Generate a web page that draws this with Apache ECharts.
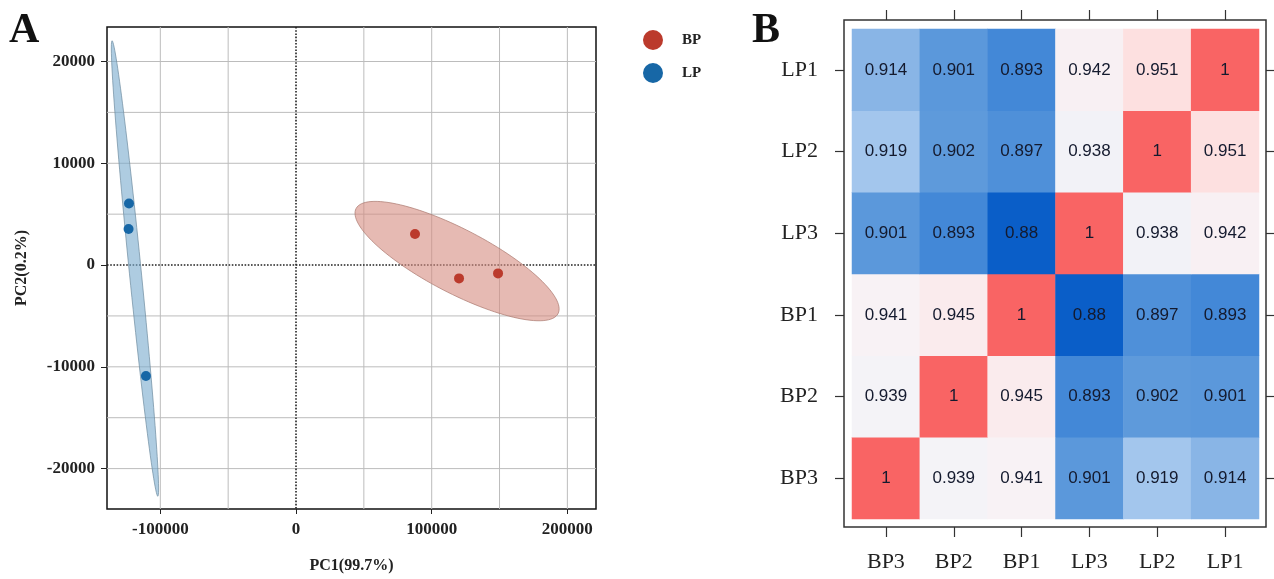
<!DOCTYPE html>
<html><head><meta charset="utf-8">
<script src="https://cdn.jsdelivr.net/npm/echarts@6/dist/echarts.min.js"></script>
<style>html,body{margin:0;padding:0;background:#fff}#c{width:1274px;height:579px}</style>
</head><body><div id="c"></div>
<script>
// ---- Panel A: PCA ----
const pcaXTicks = [-100000, 0, 100000, 200000];
const pcaYTicks = [-20000, -10000, 0, 10000, 20000];
const pcaXGrid = [-100000, -50000, 50000, 100000, 150000, 200000];
const pcaYGrid = [-20000, -15000, -10000, -5000, 5000, 10000, 15000, 20000];
const bpPoints = [[87700, 3050], [120150, -1310], [148900, -820]];
const lpPoints = [[-123100, 6050], [-123400, 3540], [-110600, -10900]];
// ellipse: [centerX, centerY, semiAxis1X, semiAxis1Y, semiAxis2X, semiAxis2Y]
const bpEllipse = [118700, 390, 74400, -5170, -11100, -2770];
const lpEllipse = [-118700, -340, 16950, -22370, 4030, 520];

// ---- Panel B: correlation heatmap ----
const samples = ['BP3', 'BP2', 'BP1', 'LP3', 'LP2', 'LP1'];
const corrBP3 = [1, 0.939, 0.941, 0.901, 0.919, 0.914];
const corrBP2 = [0.939, 1, 0.945, 0.893, 0.902, 0.901];
const corrBP1 = [0.941, 0.945, 1, 0.88, 0.897, 0.893];
const corrLP3 = [0.901, 0.893, 0.88, 1, 0.938, 0.942];
const corrLP2 = [0.919, 0.902, 0.897, 0.938, 1, 0.951];
const corrLP1 = [0.914, 0.901, 0.893, 0.942, 0.951, 1];
const corrRows = [corrBP3, corrBP2, corrBP1, corrLP3, corrLP2, corrLP1];

const heatData = [];
corrRows.forEach((row, r) => row.forEach((v, c) => heatData.push([c, r, v])));

const SERIF = 'Liberation Serif';
const SANS = 'Liberation Sans';

function ellipseRenderer(fill, stroke) {
  return function (params, api) {
    const cx = api.value(0), cy = api.value(1);
    const ux = api.value(2), uy = api.value(3), vx = api.value(4), vy = api.value(5);
    const pts = [];
    for (let i = 0; i < 120; i++) {
      const t = i / 120 * Math.PI * 2;
      pts.push(api.coord([cx + ux * Math.cos(t) + vx * Math.sin(t), cy + uy * Math.cos(t) + vy * Math.sin(t)]));
    }
    return { type: 'polygon', shape: { points: pts }, style: { fill: fill, stroke: stroke, lineWidth: 1 } };
  };
}

const chart = echarts.init(document.getElementById('c'), null, { renderer: 'canvas' });
const tickLabelA = { fontFamily: SERIF, fontWeight: 'bold', fontSize: 17, color: '#222', formatter: v => String(v) };
const axisLabelB = { fontFamily: SERIF, fontSize: 22, color: '#222' };

chart.setOption({
  animation: false,
  backgroundColor: '#fff',
  graphic: [
    { type: 'text', left: 9, top: 10, style: { text: 'A', font: 'bold 42px "Liberation Serif"', fill: '#111' } },
    { type: 'text', left: 752, top: 10, style: { text: 'B', font: 'bold 42px "Liberation Serif"', fill: '#111' } },
    { type: 'rect', shape: { x: 844, y: 20, width: 422, height: 507 }, style: { fill: 'none', stroke: '#333', lineWidth: 1.5 }, z: 10 }
  ],
  legend: {
    data: ['BP', 'LP'], orient: 'vertical', left: 638, top: 25,
    icon: 'circle', itemWidth: 20, itemHeight: 20, itemGap: 13,
    textStyle: { fontFamily: SERIF, fontWeight: 'bold', fontSize: 15, color: '#222', padding: [0, 0, 0, 14] }
  },
  grid: [
    { left: 107, top: 27, width: 489, height: 489, show: true, borderColor: '#111', borderWidth: 1.5, backgroundColor: '#fff' },
    { left: 852, top: 29, width: 407, height: 490 }
  ],
  xAxis: [
    {
      gridIndex: 0, type: 'value', min: -139300, max: 221100,
      name: 'PC1(99.7%)', nameLocation: 'middle', nameGap: 49,
      nameTextStyle: { fontFamily: SERIF, fontWeight: 'bold', fontSize: 16, color: '#222' },
      splitLine: { show: false }, axisLine: { show: false, onZero: false },
      axisTick: { show: true, customValues: pcaXTicks, length: 5, lineStyle: { color: '#222' } },
      axisLabel: Object.assign({ customValues: pcaXTicks, margin: 12 }, tickLabelA)
    },
    {
      gridIndex: 1, type: 'category', data: samples, offset: 8,
      axisLine: { show: false },
      axisTick: { show: true, alignWithLabel: true, length: 10, lineStyle: { color: '#333', width: 1.2 } },
      axisLabel: Object.assign({ margin: 24 }, axisLabelB),
      splitLine: { show: false }
    },
    {
      gridIndex: 1, type: 'category', data: samples, position: 'top', offset: 9,
      axisLine: { show: false },
      axisTick: { show: true, alignWithLabel: true, length: 10, lineStyle: { color: '#333', width: 1.2 } },
      axisLabel: { show: false }, splitLine: { show: false }
    }
  ],
  yAxis: [
    {
      gridIndex: 0, type: 'value', min: -23970, max: 23390,
      name: 'PC2(0.2%)', nameLocation: 'middle', nameGap: 77, nameRotate: 90,
      nameTextStyle: { fontFamily: SERIF, fontWeight: 'bold', fontSize: 16, color: '#222' },
      splitLine: { show: false }, axisLine: { show: false, onZero: false },
      axisTick: { show: true, customValues: pcaYTicks, length: 6, lineStyle: { color: '#222' } },
      axisLabel: Object.assign({ customValues: pcaYTicks, margin: 12 }, tickLabelA)
    },
    {
      gridIndex: 1, type: 'category', data: samples, offset: 8,
      axisLine: { show: false },
      axisTick: { show: true, alignWithLabel: true, length: 9, lineStyle: { color: '#333', width: 1.2 } },
      axisLabel: Object.assign({ margin: 26 }, axisLabelB),
      splitLine: { show: false }
    },
    {
      gridIndex: 1, type: 'category', data: samples, position: 'right', offset: 7,
      axisLine: { show: false },
      axisTick: { show: true, alignWithLabel: true, length: 9, lineStyle: { color: '#333', width: 1.2 } },
      axisLabel: { show: false }, splitLine: { show: false }
    }
  ],
  visualMap: {
    type: 'continuous', show: false, seriesIndex: 7, dimension: 2, min: 0.88, max: 1,
    inRange: { color: ['#0a5ec8', '#3a82d6', '#5896da', '#75a8e0', '#a8c9ee', '#dce9f8', '#f7f4f7',
                       '#fde2e2', '#fdd0d0', '#fcb8b8', '#fb9c9c', '#fa8080', '#f96464'] }
  },
  series: [
    {
      type: 'custom', name: 'gridX', xAxisIndex: 0, yAxisIndex: 0, z: 1, silent: true,
      data: pcaXGrid.map(v => [v, 0]), encode: { x: 0, y: 1 },
      renderItem: function (params, api) {
        const p = api.coord([api.value(0), 0]); const cs = params.coordSys;
        return { type: 'line', shape: { x1: p[0], y1: cs.y, x2: p[0], y2: cs.y + cs.height }, style: { stroke: '#bcbcbc', lineWidth: 1 } };
      }
    },
    {
      type: 'custom', name: 'gridY', xAxisIndex: 0, yAxisIndex: 0, z: 1, silent: true,
      data: pcaYGrid.map(v => [0, v]), encode: { x: 0, y: 1 },
      renderItem: function (params, api) {
        const p = api.coord([0, api.value(1)]); const cs = params.coordSys;
        return { type: 'line', shape: { x1: cs.x, y1: p[1], x2: cs.x + cs.width, y2: p[1] }, style: { stroke: '#bcbcbc', lineWidth: 1 } };
      }
    },
    {
      type: 'custom', name: 'zero', xAxisIndex: 0, yAxisIndex: 0, z: 2, silent: true,
      data: [[0, 0]], encode: { x: 0, y: 1 },
      renderItem: function (params, api) {
        const p = api.coord([api.value(0), api.value(1)]); const cs = params.coordSys;
        return { type: 'group', children: [
          { type: 'line', shape: { x1: p[0], y1: cs.y, x2: p[0], y2: cs.y + cs.height }, style: { stroke: '#222', lineWidth: 1.6, lineDash: [1.6, 1.6] } },
          { type: 'line', shape: { x1: cs.x, y1: p[1], x2: cs.x + cs.width, y2: p[1] }, style: { stroke: '#222', lineWidth: 1.6, lineDash: [1.6, 1.6] } }
        ] };
      }
    },
    {
      type: 'custom', name: 'BP ellipse', xAxisIndex: 0, yAxisIndex: 0, z: 3, silent: true,
      data: [bpEllipse], encode: { x: 0, y: 1 },
      renderItem: ellipseRenderer('rgba(214,140,128,0.6)', 'rgba(170,120,110,0.7)')
    },
    {
      type: 'custom', name: 'LP ellipse', xAxisIndex: 0, yAxisIndex: 0, z: 3, silent: true,
      data: [lpEllipse], encode: { x: 0, y: 1 },
      renderItem: ellipseRenderer('rgba(120,170,205,0.6)', 'rgba(110,140,160,0.7)')
    },
    {
      type: 'scatter', name: 'BP', xAxisIndex: 0, yAxisIndex: 0, z: 5,
      data: bpPoints, symbolSize: 10, itemStyle: { color: '#bb3a2c', opacity: 1 }
    },
    {
      type: 'scatter', name: 'LP', xAxisIndex: 0, yAxisIndex: 0, z: 5,
      data: lpPoints, symbolSize: 10, itemStyle: { color: '#1767a6', opacity: 1 }
    },
    {
      type: 'heatmap', name: 'corr', xAxisIndex: 1, yAxisIndex: 1,
      data: heatData,
      label: { show: true, formatter: p => String(p.value[2]), fontFamily: SANS, fontSize: 17, color: '#141a2e' },
      itemStyle: { borderWidth: 0 }
    }
  ]
});
</script></body></html>
